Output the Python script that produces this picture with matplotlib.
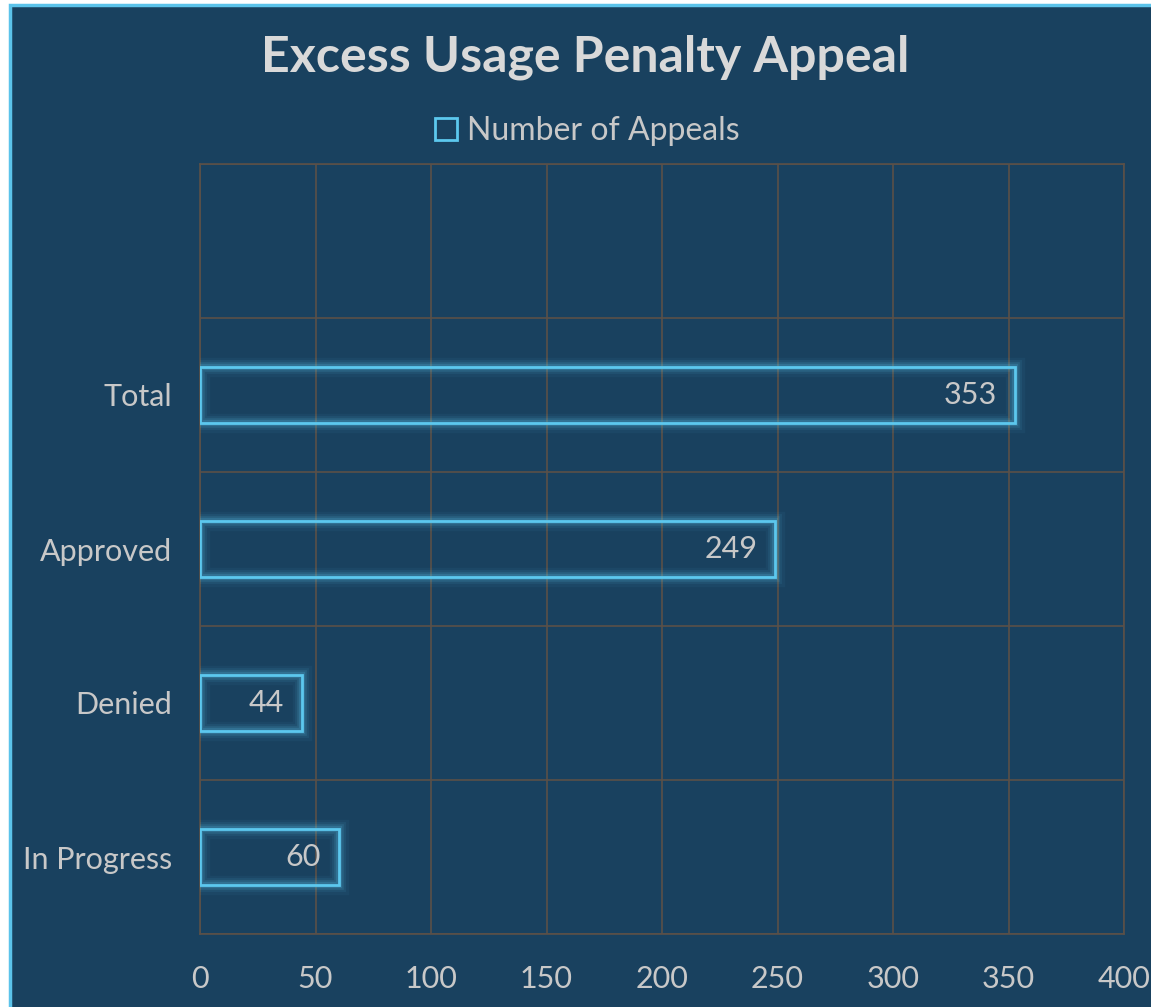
import matplotlib
matplotlib.use("Agg")
import matplotlib.pyplot as plt
from matplotlib.patches import Rectangle

categories = ["In Progress", "Denied", "Approved", "Total", ""]
appeals = [60, 44, 249, 353, None]
x_ticks = [0, 50, 100, 150, 200, 250, 300, 350, 400]

bg = "#19415f"
grid_c = "#5a5048"
cyan = "#5cc8ee"
txt = "#c8c8c8"

plt.rcParams["font.family"] = ["Lato", "DejaVu Sans"]

fig = plt.figure(figsize=(11.51, 10.07), dpi=100)
fig.patch.set_facecolor("white")
# chart frame (starts a bit inside the image, runs off the right/bottom)
frame = Rectangle((10 / 1151, -0.05), 1.1, 1 - 5 / 1007 + 0.05,
                  transform=fig.transFigure, facecolor=bg,
                  edgecolor="#5bc3ea", linewidth=2.5, zorder=-5)
fig.patches.append(frame)

ax = fig.add_axes([200 / 1151, 1 - 934 / 1007, 924 / 1151, 770 / 1007])
ax.set_facecolor("none")
ax.set_zorder(2)

ypos = list(range(len(categories)))
bar_y = [y for y, v in zip(ypos, appeals) if v is not None]
bar_v = [v for v in appeals if v is not None]
h = 0.36

# glow
for lw, a in [(14, 0.05), (10, 0.08), (7, 0.12), (4.5, 0.18)]:
    ax.barh(bar_y, bar_v, height=h, facecolor="none", edgecolor=cyan,
            linewidth=lw, alpha=a, zorder=3)
bars = ax.barh(bar_y, bar_v, height=h, facecolor="none", edgecolor=cyan,
               linewidth=2, zorder=4, label="Number of Appeals")

for y, v in zip(bar_y, bar_v):
    ax.annotate(str(v), (v, y), xytext=(-13, 0), textcoords="offset points",
                ha="right", va="center", color=txt, fontsize=22, zorder=5)

ax.set_xlim(0, 400)
ax.set_ylim(-0.5, len(categories) - 0.5)
ax.set_xticks(x_ticks)
ax.set_yticks(ypos)
ax.set_yticklabels(categories)
ax.set_yticks([i - 0.5 for i in range(len(categories) + 1)], minor=True)
ax.grid(True, axis="x", color=grid_c, linewidth=1.2, zorder=1)
ax.grid(True, axis="y", which="minor", color=grid_c, linewidth=1.2, zorder=1)
ax.set_axisbelow(True)
for s in ax.spines.values():
    s.set_color(grid_c)
    s.set_linewidth(1.2)
ax.tick_params(axis="both", which="both", length=0, colors=txt, labelsize=22)
ax.tick_params(axis="x", pad=22)
ax.tick_params(axis="y", pad=20)

fig.text(0.508, 1 - 57 / 1007, "Excess Usage Penalty Appeal", ha="center",
         va="center", fontsize=36, fontweight="bold", color="#d9d9d9")

handle = Rectangle((0, 0), 1, 1, facecolor="none", edgecolor=cyan, linewidth=2)
leg = fig.legend([handle], ["Number of Appeals"], loc="center",
                 bbox_to_anchor=(0.51, 1 - 131 / 1007), frameon=False,
                 fontsize=23, handlelength=0.7, handleheight=0.7,
                 handletextpad=0.3, labelcolor=txt)

fig.savefig("out.png", dpi=100, facecolor=fig.get_facecolor())
